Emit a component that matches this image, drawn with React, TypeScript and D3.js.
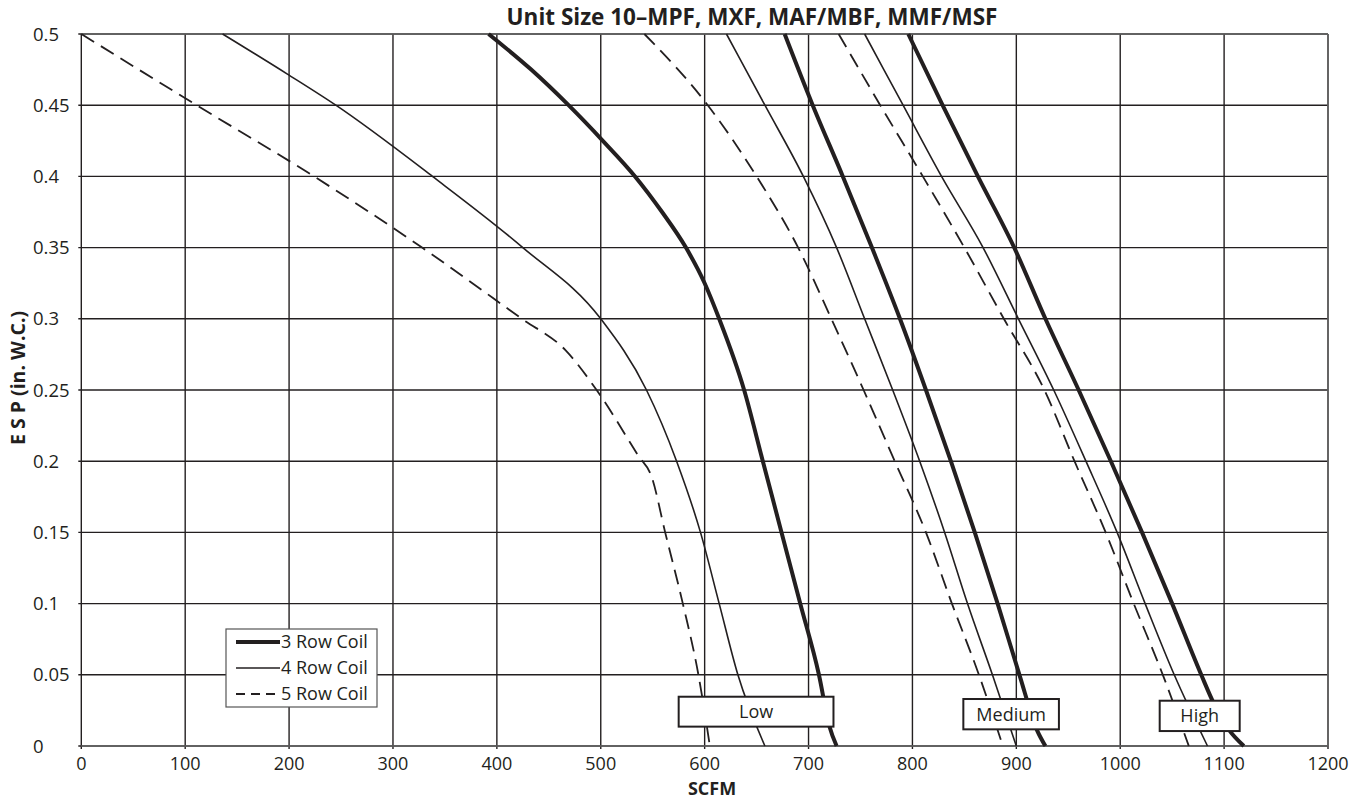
import React from 'react'
import * as d3 from 'd3'

// ESP (in. W.C.) vs SCFM
type Pt = [number, number]

const low3: Pt[] = [[392, 0.5], [433, 0.475], [469, 0.45], [502, 0.425], [533, 0.4], [559, 0.375], [582, 0.35], [600, 0.325], [614, 0.3], [638, 0.25], [656, 0.2], [674, 0.15], [692, 0.1], [710, 0.05], [720, 0.014], [727, 0]]
const low4: Pt[] = [[136, 0.5], [198, 0.472], [245, 0.45], [338, 0.4], [425, 0.35], [500, 0.3], [544, 0.25], [573, 0.2], [596, 0.15], [614, 0.1], [632, 0.05], [658, 0]]
const low5: Pt[] = [[0, 0.5], [111, 0.45], [224, 0.4], [328, 0.35], [424, 0.3], [466, 0.278], [496, 0.25], [536, 0.204], [549, 0.189], [562, 0.15], [579, 0.1], [594, 0.05], [605, 0]]

const med3: Pt[] = [[677, 0.5], [704, 0.45], [733, 0.4], [761, 0.35], [788, 0.3], [813, 0.25], [837, 0.2], [860, 0.15], [882, 0.1], [903, 0.05], [920, 0.011], [928, 0]]
const med4: Pt[] = [[621, 0.5], [658, 0.45], [695, 0.4], [727, 0.35], [754, 0.3], [781, 0.25], [807, 0.2], [831, 0.15], [853, 0.1], [877, 0.05], [900, 0]]
const med5: Pt[] = [[542, 0.5], [603, 0.45], [650, 0.4], [690, 0.35], [722, 0.3], [753, 0.25], [783, 0.2], [813, 0.15], [838, 0.1], [864, 0.05], [887, 0]]

const high3: Pt[] = [[796, 0.5], [829, 0.45], [863, 0.4], [898, 0.35], [928, 0.3], [960, 0.25], [991, 0.2], [1021, 0.15], [1050, 0.1], [1078, 0.05], [1090, 0.03], [1104, 0.012], [1119, 0]]
const high4: Pt[] = [[754, 0.5], [791, 0.45], [828, 0.4], [868, 0.35], [902, 0.3], [936, 0.25], [967, 0.2], [997, 0.15], [1024, 0.1], [1052, 0.05], [1084, 0]]
const high5: Pt[] = [[729, 0.5], [769, 0.45], [810, 0.4], [850, 0.35], [888, 0.3], [927, 0.25], [956, 0.2], [986, 0.15], [1013, 0.1], [1041, 0.05], [1066, 0]]

const xTickValues = [0, 100, 200, 300, 400, 500, 600, 700, 800, 900, 1000, 1100, 1200]
const yTickLabels = ['0', '0.05', '0.1', '0.15', '0.2', '0.25', '0.3', '0.35', '0.4', '0.45', '0.5']
const legendLabels = ['3 Row Coil', '4 Row Coil', '5 Row Coil']
const speedLabels = ['Low', 'Medium', 'High']

const ink = '#231f20'
const font = '"Open Sans", "Noto Sans", sans-serif'

const styles = {
  thick: { width: 4, dash: undefined as string | undefined },
  thin: { width: 1.6, dash: undefined as string | undefined },
  dashed: { width: 1.8, dash: '15,8' },
}

export default function App() {
  const x = d3.scaleLinear().domain([0, 1200]).range([81.3, 1328])
  const y = d3.scaleLinear().domain([0, 0.5]).range([746, 34])

  const line = d3
    .line<Pt>()
    .x((d) => x(d[0]))
    .y((d) => y(d[1]))
    .curve(d3.curveMonotoneX)

  const series = [
    { data: low3, s: styles.thick },
    { data: low4, s: styles.thin },
    { data: low5, s: styles.dashed },
    { data: med3, s: styles.thick },
    { data: med4, s: styles.thin },
    { data: med5, s: styles.dashed },
    { data: high3, s: styles.thick },
    { data: high4, s: styles.thin },
    { data: high5, s: styles.dashed },
  ]

  // label boxes near the bottom (SCFM range, ESP top/bottom)
  const boxes = [
    { x0: 575, x1: 724, y0: 0.0346, y1: 0.0136 },
    { x0: 849, x1: 941, y0: 0.033, y1: 0.0117 },
    { x0: 1038, x1: 1115, y0: 0.0318, y1: 0.0105 },
  ]

  const legendStyles = [styles.thick, styles.thin, { width: 1.8, dash: '9,6' }]

  return (
    <svg width={1353} height={800} style={{ position: 'absolute', left: 0, top: 0, background: '#fff' }}>
      <text x={752} y={25} textAnchor="middle" fontFamily={font} fontWeight="bold" fontSize={22.5} fill={ink}>
        Unit Size 10–MPF, MXF, MAF/MBF, MMF/MSF
      </text>

      {/* grid */}
      <g>
        {xTickValues.map((v) => (
          <line key={'gx' + v} x1={x(v)} x2={x(v)} y1={y(0.5)} y2={y(0) + 3} stroke={ink} strokeWidth={1.4} />
        ))}
        {yTickLabels.map((t) => (
          <line key={'gy' + t} x1={x(0) - 3} x2={x(1200)} y1={y(+t)} y2={y(+t)} stroke={ink} strokeWidth={1.4} />
        ))}
        <line x1={x(0)} x2={x(1200)} y1={y(0.5)} y2={y(0.5)} stroke="#666" strokeWidth={1.6} />
        <line x1={x(0)} x2={x(1200)} y1={y(0)} y2={y(0)} stroke="#666" strokeWidth={1.6} />
        <line x1={x(1200)} x2={x(1200)} y1={y(0.5)} y2={y(0)} stroke="#666" strokeWidth={1.6} />
      </g>

      {/* tick labels */}
      {xTickValues.map((v) => (
        <text key={'tx' + v} x={x(v)} y={770} textAnchor="middle" fontFamily={font} fontSize={18} fill={ink}>
          {v}
        </text>
      ))}
      {yTickLabels.map((t) => (
        <text key={'ty' + t} x={33} y={y(+t) + 6.5} fontFamily={font} fontSize={18.5} fill={ink}>
          {t}
        </text>
      ))}

      <text x={712} y={794.5} textAnchor="middle" fontFamily={font} fontWeight="bold" fontSize={18} fill={ink}>
        SCFM
      </text>
      <text transform="translate(25,378) rotate(-90)" textAnchor="middle" fontFamily={font} fontWeight="bold" fontSize={19.5} fill={ink}>
        E S P (in. W.C.)
      </text>

      {/* curves */}
      {series.map((c, i) => (
        <path
          key={'c' + i}
          d={line(c.data) || ''}
          fill="none"
          stroke={ink}
          strokeWidth={c.s.width}
          strokeDasharray={c.s.dash}
          strokeLinejoin="round"
        />
      ))}

      {/* speed label boxes */}
      {boxes.map((b, i) => (
        <g key={'b' + i}>
          <rect x={x(b.x0)} y={y(b.y0)} width={x(b.x1) - x(b.x0)} height={y(b.y1) - y(b.y0)} fill="#fff" stroke={ink} strokeWidth={2} />
          <text
            x={(x(b.x0) + x(b.x1)) / 2}
            y={(y(b.y0) + y(b.y1)) / 2 + 6.5}
            textAnchor="middle"
            fontFamily={font}
            fontSize={18}
            fill={ink}
          >
            {speedLabels[i]}
          </text>
        </g>
      ))}

      {/* legend */}
      <g>
        <rect x={226} y={629} width={151} height={78} fill="#fff" stroke="#555" strokeWidth={1.2} />
        {legendLabels.map((l, i) => (
          <g key={'l' + i}>
            <line
              x1={236}
              x2={280}
              y1={642 + i * 26}
              y2={642 + i * 26}
              stroke={ink}
              strokeWidth={legendStyles[i].width}
              strokeDasharray={legendStyles[i].dash}
            />
            <text x={281} y={648 + i * 26} fontFamily={font} fontSize={18} fill={ink}>
              {l}
            </text>
          </g>
        ))}
      </g>
    </svg>
  )
}
